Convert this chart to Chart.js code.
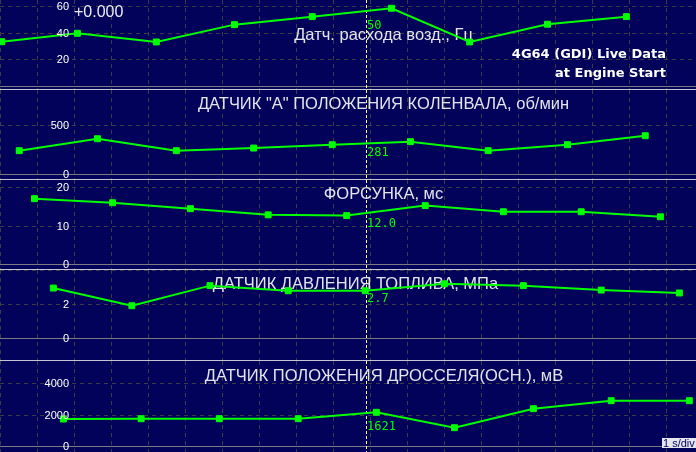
<!DOCTYPE html>
<html>
<head>
<meta charset="utf-8">
<script src="https://cdn.jsdelivr.net/npm/chart.js@4/dist/chart.umd.min.js"></script>
<style>
  html, body { margin: 0; padding: 0; background: #02025a; overflow: hidden; }
  #wrap { position: relative; width: 696px; height: 452px; background: #02025a; }
  canvas.panel { position: absolute; left: 0; }
  .sep { position: absolute; left: 0; width: 696px; height: 1px; background: #c4c4d4; }
</style>
</head>
<body>
<div id="wrap">
  <canvas class="panel" id="c1" width="696" height="89" style="top:0px"></canvas>
  <div class="sep" style="top:89px"></div>
  <canvas class="panel" id="c2" width="696" height="89" style="top:90px"></canvas>
  <div class="sep" style="top:179px"></div>
  <canvas class="panel" id="c3" width="696" height="89" style="top:180px"></canvas>
  <div class="sep" style="top:269px"></div>
  <canvas class="panel" id="c4" width="696" height="90" style="top:270px"></canvas>
  <div class="sep" style="top:360px"></div>
  <canvas class="panel" id="c5" width="696" height="91" style="top:361px"></canvas>
</div>
<script>
// ---------- DATA ----------
// time axis: seconds, 1 s per division
const cursorTime = 9.895;

const p1Title = 'Датч. расхода возд., Гц';
const p1Times  = [0.05, 2.09, 4.22, 6.33, 8.43, 10.57, 12.68, 14.78, 16.91];
const p1Values = [33.6, 39.9, 33.4, 46.4, 52.4, 58.7, 33.4, 46.7, 52.4];
const p1TickLabels = [20, 40, 60];
const p1Cursor = 50;
const p1CursorText = '50';

const p2Title = 'ДАТЧИК "А" ПОЛОЖЕНИЯ КОЛЕНВАЛА, об/мин';
const p2Times  = [0.52, 2.63, 4.76, 6.85, 8.97, 11.08, 13.18, 15.32, 17.42];
const p2Values = [243, 365, 243, 270, 304, 335, 243, 304, 396];
const p2TickLabels = [0, 500];
const p2Cursor = 281;
const p2CursorText = '281';

const p3Title = 'ФОРСУНКА, мс';
const p3Times  = [0.93, 3.04, 5.14, 7.24, 9.36, 11.48, 13.59, 15.69, 17.83];
const p3Values = [17.1, 16.05, 14.5, 12.9, 12.7, 15.3, 13.7, 13.7, 12.4];
const p3TickLabels = [0, 10, 20];
const p3Cursor = 12.0;
const p3CursorText = '12.0';

const p4Title = 'ДАТЧИК ДАВЛЕНИЯ ТОПЛИВА, МПа';
const p4Times  = [1.44, 3.56, 5.67, 7.78, 9.86, 12.0, 14.13, 16.23, 18.34];
const p4Values = [2.97, 1.93, 3.11, 2.81, 2.81, 3.22, 3.11, 2.85, 2.68];
const p4TickLabels = [0, 2];
const p4Cursor = 2.7;
const p4CursorText = '2.7';

const p5Title = 'ДАТЧИК ПОЛОЖЕНИЯ ДРОССЕЛЯ(ОСН.), мВ';
const p5Times  = [1.71, 3.81, 5.92, 8.05, 10.16, 12.27, 14.40, 16.50, 18.61];
const p5Values = [1746, 1765, 1765, 1765, 2171, 1194, 2400, 2908, 2908];
const p5TickLabels = [0, 2000, 4000];
const p5Cursor = 1621;
const p5CursorText = '1621';

const offsetText = '+0.000';
const headerLine1 = '4G64 (GDI) Live Data';
const headerLine2 = 'at Engine Start';
const timeBaseText = '1 s/div';

// ---------- STYLE ----------
const X_MAX = 18.79;
const GRID_COLOR = '#3c3c44';
const ZERO_COLOR = '#7a7a82';
const CURSOR_COLOR = '#ffff80';
const LINE_COLOR = '#00ff00';
const TITLE_COLOR = '#e4e4ec';
const TICK_COLOR = '#ffffff';

const panels = [
  { id: 'c1', title: p1Title, times: p1Times, values: p1Values, ticks: p1TickLabels,
    cursor: p1Cursor, cursorText: p1CursorText,
    min: -1.875, max: 64.88, step: 20, titleX: 383.5, titleY: 39.5, extras: 'header' },
  { id: 'c2', title: p2Title, times: p2Times, values: p2Values, ticks: p2TickLabels,
    cursor: p2Cursor, cursorText: p2CursorText,
    min: -45.9, max: 862.2, step: 500, titleX: 383.5, titleY: 19 },
  { id: 'c3', title: p3Title, times: p3Times, values: p3Values, ticks: p3TickLabels,
    cursor: p3Cursor, cursorText: p3CursorText,
    min: -1.17, max: 21.95, step: 10, titleX: 383.5, titleY: 19 },
  { id: 'c4', title: p4Title, times: p4Times, values: p4Values, ticks: p4TickLabels,
    cursor: p4Cursor, cursorText: p4CursorText,
    min: -1.26, max: 4.03, step: 2, titleX: 355.5, titleY: 19 },
  { id: 'c5', title: p5Title, times: p5Times, values: p5Values, ticks: p5TickLabels,
    cursor: p5Cursor, cursorText: p5CursorText,
    min: -349.2, max: 5428.6, step: 2000, titleX: 384, titleY: 20, extras: 'timebase' }
];

function decorPlugin(p) {
  return {
    id: 'decor',
    beforeDatasetsDraw(chart) {
      const { ctx, chartArea: a, scales: { x, y } } = chart;
      ctx.save();
      ctx.lineWidth = 1;
      // vertical grid: one per second
      ctx.strokeStyle = GRID_COLOR;
      ctx.setLineDash([4, 4]);
      for (let s = 0; s <= X_MAX; s += 1) {
        const px = Math.floor(x.getPixelForValue(s)) + 0.5;
        ctx.beginPath(); ctx.moveTo(px, a.top); ctx.lineTo(px, a.bottom); ctx.stroke();
      }
      // horizontal grid
      for (let v = Math.ceil(p.min / p.step) * p.step; v <= p.max; v += p.step) {
        const py = Math.floor(y.getPixelForValue(v)) + 0.5;
        if (v === 0) { ctx.setLineDash([]); ctx.strokeStyle = ZERO_COLOR; }
        else { ctx.setLineDash([4, 4]); ctx.strokeStyle = GRID_COLOR; }
        ctx.beginPath(); ctx.moveTo(a.left, py); ctx.lineTo(a.right, py); ctx.stroke();
      }
      // cursor
      ctx.setLineDash([3, 2]);
      ctx.strokeStyle = CURSOR_COLOR;
      const cx = Math.floor(x.getPixelForValue(cursorTime)) + 0.5;
      ctx.beginPath(); ctx.moveTo(cx, a.top); ctx.lineTo(cx, a.bottom); ctx.stroke();
      ctx.setLineDash([]);
      // title
      ctx.font = '16.5px "Liberation Sans", Arial, sans-serif';
      ctx.fillStyle = TITLE_COLOR;
      ctx.textAlign = 'center';
      ctx.textBaseline = 'alphabetic';
      ctx.fillText(p.title, p.titleX, p.titleY);
      ctx.restore();
    },
    afterDatasetsDraw(chart) {
      const { ctx, chartArea: a, scales: { x, y } } = chart;
      ctx.save();
      // tick labels
      ctx.font = '11px "Liberation Sans", Arial, sans-serif';
      ctx.fillStyle = TICK_COLOR;
      ctx.textAlign = 'right';
      ctx.textBaseline = 'middle';
      p.ticks.forEach(v => {
        ctx.fillText(String(v), 69, Math.floor(y.getPixelForValue(v)) + 0.5);
      });
      // cursor value
      const cx = Math.floor(x.getPixelForValue(cursorTime));
      ctx.font = '12px "DejaVu Sans Mono", monospace';
      ctx.fillStyle = LINE_COLOR;
      ctx.textAlign = 'left';
      ctx.textBaseline = 'top';
      ctx.fillText(p.cursorText, cx + 1, y.getPixelForValue(p.cursor));
      if (p.extras === 'header') {
        ctx.fillStyle = '#ececf4';
        ctx.font = '16px "Liberation Sans", Arial, sans-serif';
        ctx.textAlign = 'left';
        ctx.textBaseline = 'alphabetic';
        ctx.fillText(offsetText, 74, 16.5);
        ctx.fillStyle = '#ffffff';
        ctx.font = 'bold 13px "DejaVu Sans", Verdana, sans-serif';
        ctx.textAlign = 'right';
        ctx.fillText(headerLine1, 666, 57.5);
        ctx.fillText(headerLine2, 666, 76.5);
      }
      if (p.extras === 'timebase') {
        ctx.fillStyle = '#e6e6f2';
        ctx.fillRect(662, a.bottom - 14, 34, 10);
        ctx.fillStyle = '#02025a';
        ctx.font = '11px "Liberation Sans", Arial, sans-serif';
        ctx.textAlign = 'left';
        ctx.textBaseline = 'alphabetic';
        ctx.fillText(timeBaseText, 663, a.bottom - 5.5);
      }
      ctx.restore();
    }
  };
}

panels.forEach(p => {
  new Chart(document.getElementById(p.id), {
    type: 'line',
    data: {
      datasets: [{
        data: p.times.map((t, i) => ({ x: t, y: p.values[i] })),
        borderColor: LINE_COLOR,
        backgroundColor: LINE_COLOR,
        borderWidth: 2,
        pointStyle: 'rect',
        pointRadius: 4.2,
        pointBorderWidth: 1,
        pointBackgroundColor: LINE_COLOR,
        pointBorderColor: LINE_COLOR,
        tension: 0,
        fill: false
      }]
    },
    options: {
      responsive: false,
      animation: false,
      devicePixelRatio: 1,
      layout: { padding: 0, autoPadding: false },
      plugins: { legend: { display: false }, tooltip: { enabled: false } },
      events: [],
      scales: {
        x: { type: 'linear', min: 0, max: X_MAX, display: false, ticks: { stepSize: 1 } },
        y: { type: 'linear', min: p.min, max: p.max, display: false, ticks: { stepSize: p.step } }
      }
    },
    plugins: [decorPlugin(p)]
  });
});
</script>
</body>
</html>
